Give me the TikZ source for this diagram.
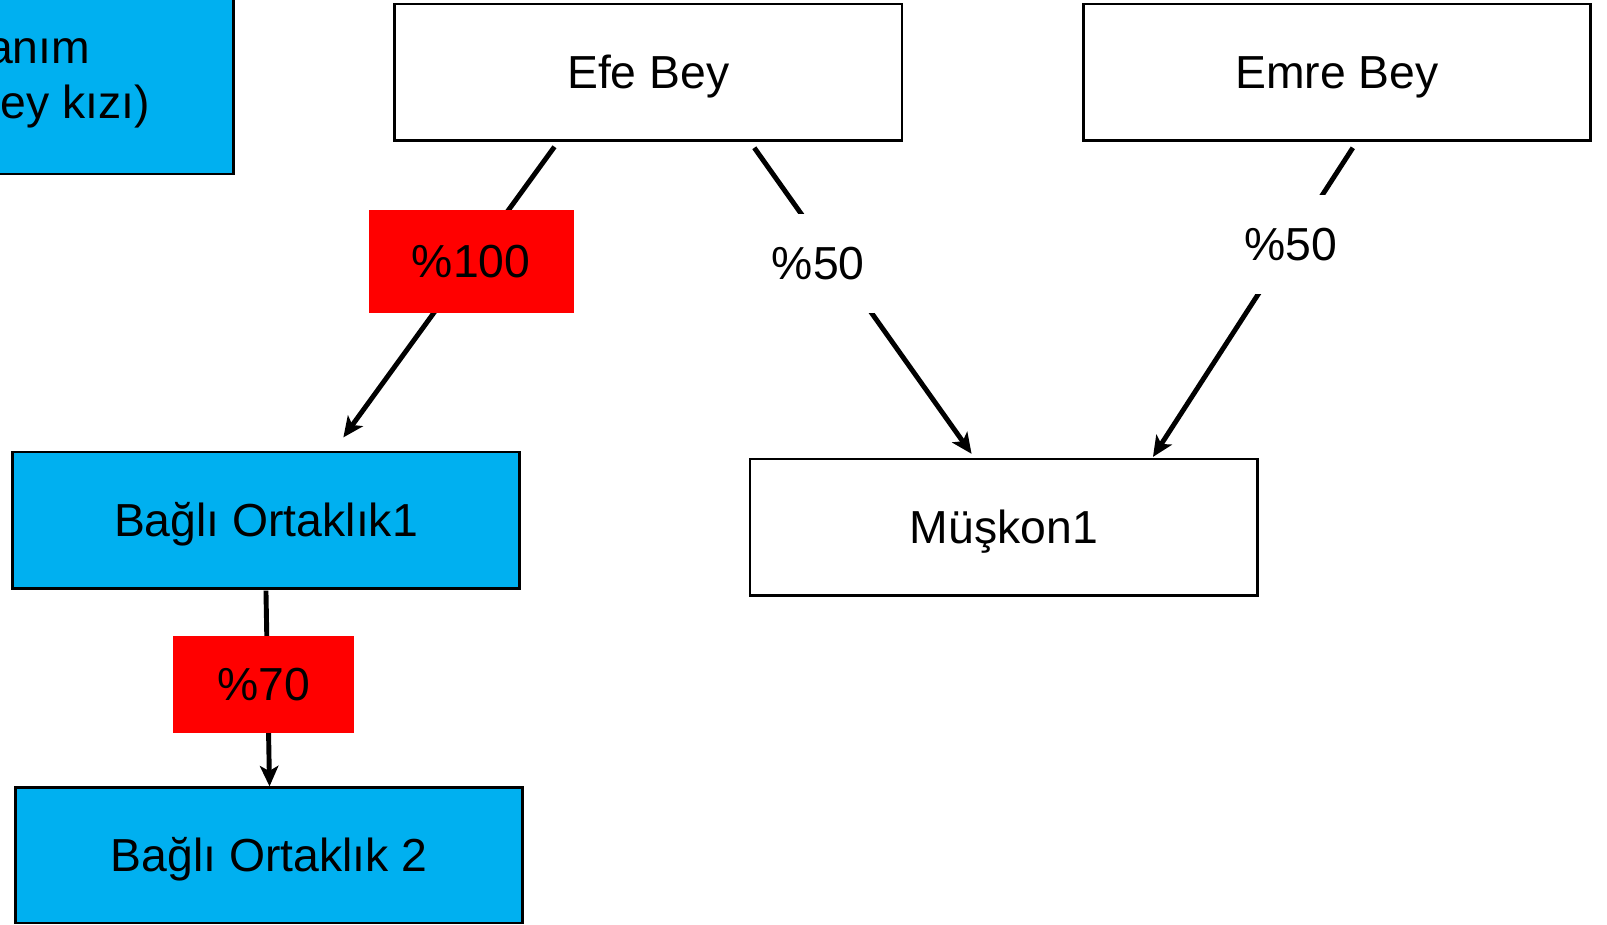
\documentclass[tikz,border=0pt]{standalone}
\usepackage{fontspec}
\setmainfont{Liberation Sans}
\usetikzlibrary{arrows.meta}
\definecolor{mavi}{HTML}{00B0F0}
\definecolor{kirmizi}{HTML}{FF0000}

\begin{document}
\begin{tikzpicture}[x=0.5pt,y=-0.5pt]
\tikzstyle{yazi}=[font=\fontsize{22.6}{26.8}\selectfont]
\tikzstyle{kutu}=[rectangle,draw,line width=1.2pt,yazi,inner sep=0pt,
text height=16pt,text depth=0.5pt,
minimum width=247.5pt,minimum height=66.5pt]
\tikzstyle{mavikutu}=[kutu,fill=mavi]
\tikzstyle{oran}=[rectangle,fill=kirmizi,yazi,inner sep=0pt,
text height=16pt,text depth=0.5pt]
\tikzstyle{pay}=[rectangle,fill=white,yazi,inner sep=0pt,
text height=16pt,text depth=0.5pt,
minimum width=100pt,minimum height=48.5pt]

\useasboundingbox (0,0) rectangle (1568,902);
\clip (0,0) rectangle (1568,902);

\node[mavikutu,minimum width=264pt,minimum height=135pt] (hanimkutu) at (-36,35) {};
\node[yazi,align=left,anchor=base west,inner sep=0pt] (hanim) at (0,115.3) {\hspace*{-6.5pt}anım\\ey kızı)};

\node[kutu] (efe) at (632.5,70.5) {Efe Bey};
\node[kutu] (emre) at (1304.5,70.5) {Emre Bey};
\node[mavikutu] (bo1) at (259.5,507.5) {Bağlı Ortaklık1};
\node[kutu] (muskon) at (979.5,514.5) {Müşkon1};
\node[mavikutu,minimum height=66pt] (bo2) at (262.5,834.5) {Bağlı Ortaklık 2};

\tikzstyle{bag}=[-{Stealth[length=10pt,width=9pt,inset=2.5pt]},line width=2.4pt]
\draw[bag] ([xshift=-45.75pt,yshift=-2.5pt]efe.south)
  -- node[oran,pos=0.395,minimum width=100pt,minimum height=50pt] (y100) {\%100}
  ([xshift=37.75pt,yshift=6.5pt]bo1.north);
\draw[bag] ([xshift=51.75pt,yshift=-3pt]efe.south)
  -- node[pay,pos=0.379,xshift=-9pt] (efepay) {\%50}
  ([xshift=-15.75pt,yshift=2pt]muskon.north);
\draw[bag] ([xshift=7.75pt,yshift=-3pt]emre.south)
  -- node[pay,pos=0.312] (emrepay) {\%50}
  ([xshift=72.75pt,yshift=0.5pt]muskon.north);
\draw[bag] ([yshift=-0.5pt]bo1.south)
  -- node[oran,pos=0.48,xshift=-2pt,minimum width=88.5pt,minimum height=47pt] (y70) {\%70}
  ([xshift=0.25pt]bo2.north);

\end{tikzpicture}
\end{document}
